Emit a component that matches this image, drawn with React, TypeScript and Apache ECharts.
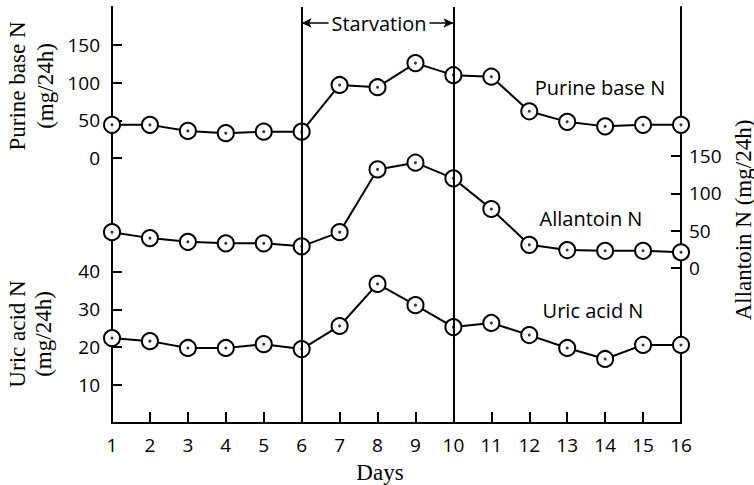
import React, { useEffect, useRef } from "react";
import * as echarts from "echarts";

// ---------- data ----------
const days = [1, 2, 3, 4, 5, 6, 7, 8, 9, 10, 11, 12, 13, 14, 15, 16];
const purineBaseN = [44, 44, 36, 33, 35, 35, 97, 94, 126, 110, 108, 62, 48, 42, 44, 44];
const allantoinN = [48, 40, 35, 33, 33, 29, 48, 132, 141, 120, 79, 31, 24, 23, 23, 21];
const uricAcidN = [22.4, 21.6, 19.8, 19.8, 20.8, 19.5, 25.6, 36.7, 31.1, 25.3, 26.4, 23.2, 19.8, 16.9, 20.6, 20.6];
const purineTicks = [0, 50, 100, 150];
const allantoinTicks = [0, 50, 100, 150];
const uricTicks = [10, 20, 30, 40];
const starvationDays = [6, 10];

// ---------- layout ----------
const W = 754;
const H = 485;
const TOP = 7;
const BOTTOM = 423;
const LEFT = 112;
const RIGHT = 681;
const SANS = "'Open Sans', sans-serif";
const SERIF = "'Liberation Serif', 'Times New Roman', serif";
const INK = "#000";

function rangeFor(zeroY: number, pxPerUnit: number) {
  return { min: -(BOTTOM - zeroY) / pxPerUnit, max: (zeroY - TOP) / pxPerUnit };
}
const purineRange = rangeFor(158, 0.753);
const allantoinRange = rangeFor(268, 0.747);
const uricRange = rangeFor(423, 3.79);
const arrowValue = (158 - 23) / 0.753;

const pairs = (vals: number[]) => days.map((d, i) => [d, vals[i]]);

const lineSeries = (name: string, vals: number[], yIdx: number) => [
  {
    name,
    type: "line",
    xAxisIndex: 0,
    yAxisIndex: yIdx,
    data: pairs(vals),
    symbol: "circle",
    symbolSize: 16,
    showAllSymbol: true,
    z: 3,
    lineStyle: { color: INK, width: 2 },
    itemStyle: { color: "#fff", borderColor: INK, borderWidth: 2 },
    silent: true,
  },
  {
    name: name + " dot",
    type: "scatter",
    xAxisIndex: 0,
    yAxisIndex: yIdx,
    data: pairs(vals),
    symbol: "circle",
    symbolSize: 3,
    z: 5,
    itemStyle: { color: INK },
    silent: true,
  },
];

const yAxisBase = (position: "left" | "right", range: { min: number; max: number }, ticks: number[], margin: number) => ({
  type: "value",
  position,
  min: range.min,
  max: range.max,
  axisLine: { show: true, onZero: false, lineStyle: { color: INK, width: 2 } },
  axisTick: { show: true, inside: true, length: 10, customValues: ticks, lineStyle: { color: INK, width: 2 } },
  axisLabel: { show: true, customValues: ticks, margin, color: INK, fontSize: 19, fontFamily: SANS },
  splitLine: { show: false },
});

export default function App() {
  const ref = useRef<HTMLDivElement>(null);
  useEffect(() => {
    if (!ref.current) return;
    const chart = echarts.init(ref.current, null, { renderer: "svg" });
    const option: any = {
      animation: false,
      backgroundColor: "#fff",
      grid: { left: LEFT, right: W - RIGHT, top: TOP, bottom: H - BOTTOM, containLabel: false },
      xAxis: {
        type: "value",
        min: 1,
        max: 16,
        interval: 1,
        axisLine: { show: true, onZero: false, lineStyle: { color: INK, width: 2 } },
        axisTick: { show: true, inside: true, length: 11, lineStyle: { color: INK, width: 2 } },
        axisLabel: { color: INK, fontSize: 19, fontFamily: SANS, margin: 12 },
        splitLine: { show: false },
      },
      yAxis: [
        yAxisBase("left", purineRange, purineTicks, 12),
        yAxisBase("right", allantoinRange, allantoinTicks, 8),
        yAxisBase("left", uricRange, uricTicks, 12),
      ],
      series: [
        {
          name: "markers",
          type: "line",
          xAxisIndex: 0,
          yAxisIndex: 0,
          data: pairs(purineBaseN),
          symbol: "none",
          lineStyle: { opacity: 0 },
          z: 1,
          silent: true,
          markLine: {
            silent: true,
            symbol: ["none", "none"],
            label: { show: false },
            lineStyle: { color: INK, width: 2, type: "solid" },
            data: [
              { xAxis: starvationDays[0] },
              { xAxis: starvationDays[1] },
              [
                {
                  coord: [starvationDays[0], arrowValue],
                  symbol: "arrow",
                  symbolSize: [7, 10],
                  lineStyle: { color: INK, width: 1.5, type: "solid" },
                },
                { coord: [starvationDays[1], arrowValue], symbol: "arrow", symbolSize: [7, 10] },
              ],
            ],
          },
        },
        ...lineSeries("Purine base N", purineBaseN, 0),
        ...lineSeries("Allantoin N", allantoinN, 1),
        ...lineSeries("Uric acid N", uricAcidN, 2),
      ],
      graphic: [
        {
          type: "text",
          x: 379,
          y: 23,
          z: 10,
          style: {
            text: "Starvation",
            font: `20px ${SANS}`,
            fill: INK,
            backgroundColor: "#fff",
            padding: [0, 3],
            textAlign: "center",
            textVerticalAlign: "middle",
          },
        },
        {
          type: "text",
          x: 31,
          y: 86,
          rotation: Math.PI / 2,
          style: {
            text: "Purine base N\n(mg/24h)",
            font: `23px ${SERIF}`,
            lineHeight: 28,
            fill: INK,
            textAlign: "center",
            textVerticalAlign: "middle",
          },
        },
        {
          type: "text",
          x: 30,
          y: 334,
          rotation: Math.PI / 2,
          style: {
            text: "Uric acid N\n(mg/24h)",
            font: `23px ${SERIF}`,
            lineHeight: 26,
            fill: INK,
            textAlign: "center",
            textVerticalAlign: "middle",
          },
        },
        {
          type: "text",
          x: 743,
          y: 220,
          rotation: Math.PI / 2,
          style: {
            text: "Allantoin N (mg/24h)",
            font: `23px ${SERIF}`,
            fill: INK,
            textAlign: "center",
            textVerticalAlign: "middle",
          },
        },
        {
          type: "text",
          x: 380,
          y: 472,
          style: {
            text: "Days",
            font: `23px ${SERIF}`,
            fill: INK,
            textAlign: "center",
            textVerticalAlign: "middle",
          },
        },
        {
          type: "text",
          x: 600,
          y: 87,
          style: { text: "Purine base N", font: `20px ${SANS}`, fill: INK, textAlign: "center", textVerticalAlign: "middle" },
        },
        {
          type: "text",
          x: 591,
          y: 218,
          style: { text: "Allantoin N", font: `20px ${SANS}`, fill: INK, textAlign: "center", textVerticalAlign: "middle" },
        },
        {
          type: "text",
          x: 593,
          y: 310,
          style: { text: "Uric acid N", font: `20px ${SANS}`, fill: INK, textAlign: "center", textVerticalAlign: "middle" },
        },
      ],
    };
    chart.setOption(option);
    return () => chart.dispose();
  }, []);
  return (
    <div
      ref={ref}
      style={{ position: "fixed", left: 0, top: 0, width: W, height: H, background: "#fff" }}
    />
  );
}
